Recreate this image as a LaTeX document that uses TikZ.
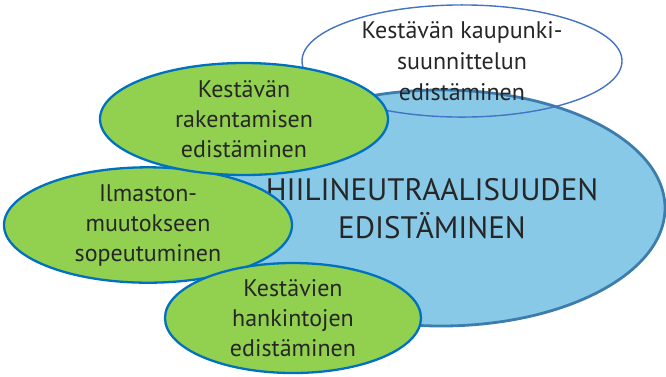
\documentclass[tikz,border=0pt]{standalone}
\usepackage{fontspec}
\setmainfont{PT Sans}
\usetikzlibrary{shapes.geometric}
\definecolor{gfill}{HTML}{92D050}
\definecolor{gline}{HTML}{0070C0}
\definecolor{bfill}{HTML}{89C9E8}
\definecolor{bline}{HTML}{3D7DAE}
\definecolor{wline}{HTML}{4472C4}
\definecolor{txt}{HTML}{262626}
\tikzset{
  greenell/.style={ellipse, draw=gline, line width=2.3pt, fill=gfill, inner sep=0pt,
    text=txt, align=center, font=\fontsize{24}{30}\selectfont},
}
\begin{document}
\begin{tikzpicture}[x=1pt,y=-1pt]
\useasboundingbox (0,0) rectangle (666,376);
\node[ellipse, draw=bline, line width=2.8pt, fill=bfill, minimum width=448pt, minimum height=236pt] (hiili) at (441,208) {};
\node[text=txt, align=center, font=\fontsize{31}{38}\selectfont] (hiilitxt) at (432,209) {HIILINEUTRAALISUUDEN\\EDISTÄMINEN};
\node[ellipse, draw=wline, line width=1.4pt, minimum width=320pt, minimum height=112pt, inner sep=0pt,
  text=txt, align=center, font=\fontsize{24}{31}\selectfont] (kaupunki) at (462,61) {Kestävän kaupunki-\\suunnittelun\\edistäminen};
\node[greenell, minimum width=288pt, minimum height=112pt] (ilmasto) at (148,225) {Ilmaston-\\muutokseen\\sopeutuminen};
\node[greenell, minimum width=288pt, minimum height=112pt] (rakent) at (244,119) {Kestävän\\rakentamisen\\edistäminen};
\node[greenell, minimum width=256pt, minimum height=110pt] (hankinta) at (293,318) {Kestävien\\hankintojen\\edistäminen};
\end{tikzpicture}
\end{document}
